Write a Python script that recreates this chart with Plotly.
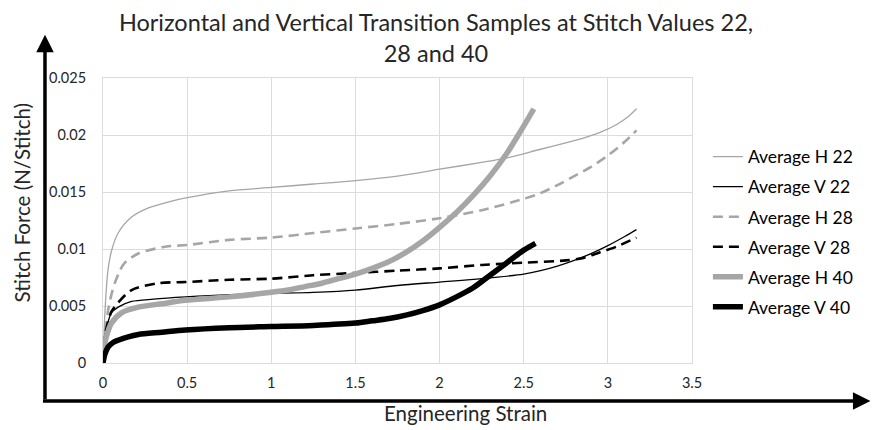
import plotly.graph_objects as go

# ---- data ----
names = ["Average H 22", "Average V 22", "Average H 28", "Average V 28", "Average H 40", "Average V 40"]

h22_x = [0, 0.005, 0.01, 0.02, 0.03, 0.05, 0.09, 0.17, 0.27, 0.38, 0.5, 0.75, 1.0, 1.25, 1.5, 1.75, 2.0, 2.25, 2.4, 2.6, 2.75, 2.85, 2.95, 3.05, 3.12, 3.17]
h22_y = [0, 0.002, 0.004, 0.0065, 0.0082, 0.0098, 0.0114, 0.0128, 0.0136, 0.0141, 0.0145, 0.0151, 0.0154, 0.0157, 0.0160, 0.0164, 0.0170, 0.0176, 0.0180, 0.01875, 0.0193, 0.0197, 0.0202, 0.0209, 0.0216, 0.0223]

v22_x = [0, 0.01, 0.03, 0.05, 0.09, 0.17, 0.3, 0.49, 0.75, 1.0, 1.25, 1.5, 1.75, 2.0, 2.25, 2.5, 2.6, 2.7, 2.8, 2.9, 3.0, 3.1, 3.17]
v22_y = [0, 0.0023, 0.0036, 0.0044, 0.0049, 0.0054, 0.0056, 0.0058, 0.0060, 0.0061, 0.0062, 0.0064, 0.0068, 0.0071, 0.0074, 0.0078, 0.0081, 0.0085, 0.0090, 0.0096, 0.0103, 0.0111, 0.0117]

h28_x = [0, 0.01, 0.03, 0.05, 0.07, 0.1, 0.13, 0.21, 0.37, 0.5, 0.75, 1.0, 1.25, 1.5, 1.75, 2.0, 2.25, 2.5, 2.6, 2.7, 2.8, 2.9, 3.0, 3.1, 3.17]
h28_y = [0, 0.0022, 0.0046, 0.006, 0.007, 0.0081, 0.0088, 0.0096, 0.0102, 0.01035, 0.0108, 0.0110, 0.0114, 0.0118, 0.0122, 0.0127, 0.0134, 0.0144, 0.0149, 0.0156, 0.0164, 0.0172, 0.0182, 0.0194, 0.0204]

v28_x = [0, 0.01, 0.03, 0.05, 0.09, 0.17, 0.33, 0.49, 0.75, 1.0, 1.25, 1.5, 1.75, 2.0, 2.25, 2.5, 2.75, 2.85, 2.95, 3.05, 3.17]
v28_y = [0, 0.0023, 0.0036, 0.0045, 0.0053, 0.0064, 0.0070, 0.0071, 0.0073, 0.0074, 0.0077, 0.0079, 0.0081, 0.0083, 0.0086, 0.0088, 0.0090, 0.0092, 0.0097, 0.0102, 0.0110]

h40_x = [0, 0.01, 0.03, 0.05, 0.11, 0.21, 0.35, 0.49, 0.75, 1.0, 1.1, 1.2, 1.3, 1.4, 1.5, 1.6, 1.7, 1.8, 1.9, 2.0, 2.1, 2.2, 2.3, 2.4, 2.48, 2.56]
h40_y = [0, 0.0017, 0.0028, 0.0035, 0.0044, 0.0049, 0.0052, 0.0055, 0.0058, 0.0062, 0.0064, 0.0067, 0.0070, 0.0074, 0.0078, 0.0083, 0.0089, 0.0097, 0.0107, 0.0119, 0.0132, 0.0147, 0.0164, 0.0184, 0.0203, 0.0223]

v40_x = [0, 0.01, 0.03, 0.06, 0.09, 0.15, 0.21, 0.35, 0.49, 0.75, 1.0, 1.25, 1.5, 1.6, 1.7, 1.8, 1.9, 2.0, 2.1, 2.2, 2.3, 2.4, 2.5, 2.57]
v40_y = [0, 0.0007, 0.0014, 0.0018, 0.0020, 0.0023, 0.0025, 0.0027, 0.0029, 0.0031, 0.0032, 0.0033, 0.0035, 0.0037, 0.0039, 0.0042, 0.0046, 0.0051, 0.0058, 0.0066, 0.0077, 0.0088, 0.0099, 0.0105]

x_ticks = [0, 0.5, 1, 1.5, 2, 2.5, 3, 3.5]
x_ticktext = ["0", "0.5", "1", "1.5", "2", "2.5", "3", "3.5"]
y_ticks = [0, 0.005, 0.01, 0.015, 0.02, 0.025]
y_ticktext = ["0", "0.005", "0.01", "0.015", "0.02", "0.025"]

title_text = "Horizontal and Vertical Transition Samples at Stitch Values 22,<br>28 and 40"
x_title = "Engineering Strain"
y_title = "Stitch Force (N/Stitch)"

# ---- styles ----
GRAY = "#A6A6A6"
BLACK = "#000000"
FONT = "Lato"
series = [
    (h22_x, h22_y, GRAY, 1.3, "solid"),
    (v22_x, v22_y, BLACK, 1.3, "solid"),
    (h28_x, h28_y, GRAY, 2.6, "10px,6px"),
    (v28_x, v28_y, BLACK, 2.6, "10px,6px"),
    (h40_x, h40_y, GRAY, 5.5, "solid"),
    (v40_x, v40_y, BLACK, 5.5, "solid"),
]

fig = go.Figure()
for i, (xs, ys, col, w, dash) in enumerate(series):
    fig.add_trace(go.Scatter(
        x=xs, y=ys, mode="lines", name=names[i], legendgroup=f"g{i}",
        line=dict(color=col, width=w, dash=dash, shape="spline", smoothing=0.8),
    ))

axis_common = dict(showgrid=True, gridcolor="#DCDCDC", gridwidth=1, zeroline=False,
                   showline=True, linecolor="#DCDCDC", linewidth=1, mirror=True,
                   ticks="", tickfont=dict(family=FONT, size=14.5, color="#262626"))

fig.update_layout(
    width=872, height=430,
    margin=dict(l=103, r=180, t=78, b=67),
    paper_bgcolor="white", plot_bgcolor="white",
    font=dict(family=FONT, color="#262626"),
    title=dict(text=title_text, x=0.5, xanchor="center", y=0.928, yanchor="middle",
               font=dict(family=FONT, size=23.5, color="#262626")),
    xaxis=dict(range=[0, 3.5], tickvals=x_ticks, ticktext=x_ticktext, ticklabelstandoff=7, **axis_common),
    yaxis=dict(range=[0, 0.025], tickvals=y_ticks, ticktext=y_ticktext, ticklabelstandoff=13, **axis_common),
    legend=dict(x=1.027, xanchor="left", y=0.787, yanchor="top", tracegroupgap=4.3,
                font=dict(family=FONT, size=17.5, color="#000000"), itemwidth=30,
                bgcolor="rgba(0,0,0,0)"),
    showlegend=True,
)

# axis titles
fig.add_annotation(text=y_title, xref="paper", yref="paper", x=-0.1375, y=0.56,
                   xanchor="center", yanchor="middle", textangle=-90, showarrow=False,
                   font=dict(family=FONT, size=20.5, color="#262626"))
fig.add_annotation(text=x_title, xref="paper", yref="paper", x=0.616, y=-0.175,
                   xanchor="center", yanchor="middle", showarrow=False,
                   font=dict(family=FONT, size=20.5, color="#262626"))

# big arrows (y-axis up, x-axis right)
fig.add_annotation(text="", xref="paper", yref="paper", x=-0.0985, y=1.152,
                   ax=0, ay=366, axref="pixel", ayref="pixel", showarrow=True,
                   arrowhead=2, arrowsize=1.0, arrowwidth=3.5, arrowcolor="black", standoff=0)
fig.add_annotation(text="", xref="paper", yref="paper", x=1.303, y=-0.1333,
                   ax=-829, ay=0, axref="pixel", ayref="pixel", showarrow=True,
                   arrowhead=2, arrowsize=1.0, arrowwidth=3.5, arrowcolor="black", standoff=0)

fig.write_html("out.html")
